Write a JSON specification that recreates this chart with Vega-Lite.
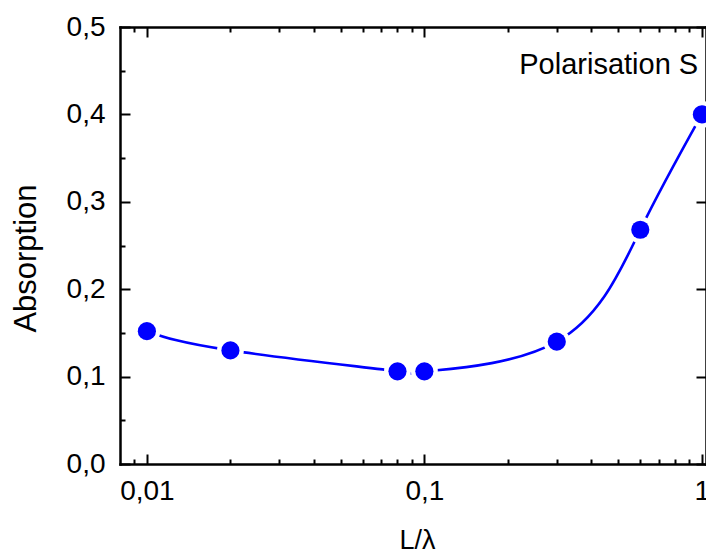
{
  "$schema": "https://vega.github.io/schema/vega-lite/v6.json",
  "width": 586,
  "height": 437,
  "autosize": "none",
  "padding": {"left": 120, "top": 27, "right": 0, "bottom": 90},
  "background": "white",
  "config": {
    "view": {"stroke": null},
    "axis": {
      "grid": false,
      "domainColor": "black",
      "domainWidth": 2.5,
      "domainCap": "square",
      "tickColor": "black",
      "tickWidth": 2,
      "labelFont": "Liberation Sans",
      "labelFontSize": 28,
      "labelColor": "black",
      "titleFont": "Liberation Sans",
      "titleFontSize": 29,
      "titleFontWeight": "normal",
      "titleColor": "black",
      "labelFlush": false,
      "labelOverlap": false
    }
  },
  "data": {
    "values": [
      {"L": 0.01, "A": 0.152},
      {"L": 0.02, "A": 0.130},
      {"L": 0.08, "A": 0.106},
      {"L": 0.1, "A": 0.106},
      {"L": 0.3, "A": 0.140},
      {"L": 0.6, "A": 0.268},
      {"L": 1.0, "A": 0.400}
    ]
  },
  "resolve": {"axis": {"x": "independent", "y": "independent"}},
  "layer": [
    {
      "mark": {"type": "line", "interpolate": "natural", "color": "#0000ff", "strokeWidth": 2.6},
      "encoding": {
        "x": {
          "field": "L", "type": "quantitative",
          "scale": {"type": "log", "domain": [0.008, 1.035], "nice": false, "zero": false},
          "axis": {
            "orient": "bottom", "values": [0.01, 0.1, 1], "tickSize": -10,
            "labelPadding": 45, "labelBaseline": "alphabetic",
            "labelExpr": "replace(format(datum.value, '~g'), '.', ',')",
            "title": "L/λ", "titleFontSize": 27, "titleX": 297, "titleY": 84, "titleAlign": "center", "titleBaseline": "alphabetic"
          }
        },
        "y": {
          "field": "A", "type": "quantitative",
          "scale": {"domain": [0, 0.5], "nice": false, "zero": false},
          "axis": {
            "orient": "left", "values": [0, 0.1, 0.2, 0.3, 0.4, 0.5], "tickSize": -10,
            "labelPadding": 25,
            "labelExpr": "replace(format(datum.value, '.1f'), '.', ',')",
            "title": "Absorption", "titleFontSize": 31, "titleX": -85, "titleY": 231, "titleAngle": 270,
            "titleAlign": "center", "titleBaseline": "alphabetic"
          }
        }
      }
    },
    {
      "mark": {"type": "point", "filled": true, "shape": "circle", "color": "white", "opacity": 1, "size": 720},
      "encoding": {
        "x": {
          "field": "L", "type": "quantitative",
          "scale": {"type": "log", "domain": [0.008, 1.035], "nice": false, "zero": false},
          "axis": {
            "orient": "bottom", "domain": false, "labels": false, "title": null, "tickSize": -5,
            "values": [0.009, 0.02, 0.03, 0.04, 0.05, 0.06, 0.07, 0.08, 0.09, 0.2, 0.3, 0.4, 0.5, 0.6, 0.7, 0.8, 0.9]
          }
        },
        "y": {
          "field": "A", "type": "quantitative",
          "scale": {"domain": [0, 0.5], "nice": false, "zero": false},
          "axis": {
            "orient": "left", "domain": false, "labels": false, "title": null, "tickSize": -5,
            "values": [0.05, 0.15, 0.25, 0.35, 0.45]
          }
        }
      }
    },
    {
      "mark": {"type": "point", "filled": true, "shape": "circle", "color": "#0000ff", "opacity": 1, "size": 330},
      "encoding": {
        "x": {
          "field": "L", "type": "quantitative",
          "scale": {"type": "log", "domain": [0.008, 1.035], "nice": false, "zero": false},
          "axis": {
            "orient": "top", "labels": false, "title": null, "tickSize": -10,
            "values": [0.01, 0.1, 1]
          }
        },
        "y": {
          "field": "A", "type": "quantitative",
          "scale": {"domain": [0, 0.5], "nice": false, "zero": false},
          "axis": {
            "orient": "right", "labels": false, "title": null, "tickSize": -10,
            "values": [0, 0.1, 0.2, 0.3, 0.4, 0.5]
          }
        }
      }
    },
    {
      "data": {"values": [{"L": 0.97, "A": 0.446, "label": "Polarisation S"}]},
      "mark": {"type": "text", "align": "right", "baseline": "alphabetic", "font": "Liberation Sans", "fontSize": 29, "color": "black"},
      "encoding": {
        "text": {"field": "label"},
        "x": {
          "field": "L", "type": "quantitative",
          "scale": {"type": "log", "domain": [0.008, 1.035], "nice": false, "zero": false},
          "axis": {
            "orient": "top", "domain": false, "labels": false, "title": null, "tickSize": -5,
            "values": [0.009, 0.02, 0.03, 0.04, 0.05, 0.06, 0.07, 0.08, 0.09, 0.2, 0.3, 0.4, 0.5, 0.6, 0.7, 0.8, 0.9]
          }
        },
        "y": {
          "field": "A", "type": "quantitative",
          "scale": {"domain": [0, 0.5], "nice": false, "zero": false},
          "axis": null
        }
      }
    }
  ]
}
